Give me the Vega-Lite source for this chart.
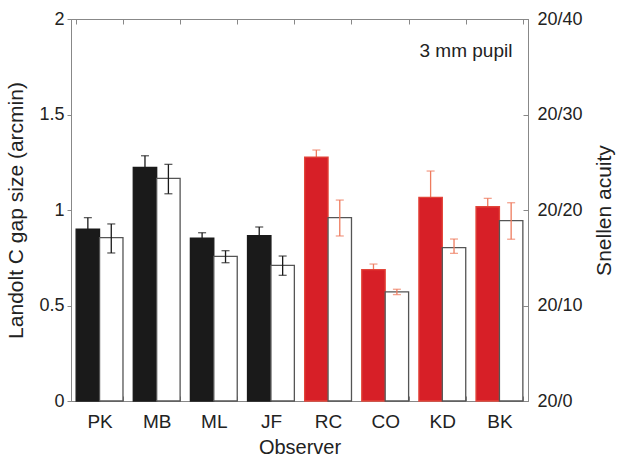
{
  "$schema": "https://vega.github.io/schema/vega-lite/v6.json",
  "width": 457,
  "height": 382,
  "autosize": "none",
  "padding": {"left": 71, "top": 19, "right": 93, "bottom": 64},
  "background": "white",
  "config": {
    "font": "Liberation Sans",
    "view": {"stroke": "#888888", "strokeWidth": 1},
    "axis": {
      "domainColor": "#888888",
      "tickColor": "#888888",
      "labelColor": "#222222",
      "titleColor": "#222222",
      "labelFont": "Liberation Sans",
      "titleFont": "Liberation Sans",
      "titleFontWeight": "normal",
      "grid": false
    }
  },
  "data": {
    "values": [
      {"observer": "PK", "set": "A", "cond": "filled", "value": 0.90, "lo": 0.84, "hi": 0.96},
      {"observer": "PK", "set": "A", "cond": "open", "value": 0.855, "lo": 0.775, "hi": 0.927},
      {"observer": "MB", "set": "A", "cond": "filled", "value": 1.223, "lo": 1.162, "hi": 1.284},
      {"observer": "MB", "set": "A", "cond": "open", "value": 1.166, "lo": 1.085, "hi": 1.239},
      {"observer": "ML", "set": "A", "cond": "filled", "value": 0.852, "lo": 0.823, "hi": 0.881},
      {"observer": "ML", "set": "A", "cond": "open", "value": 0.757, "lo": 0.724, "hi": 0.787},
      {"observer": "JF", "set": "A", "cond": "filled", "value": 0.866, "lo": 0.821, "hi": 0.911},
      {"observer": "JF", "set": "A", "cond": "open", "value": 0.71, "lo": 0.658, "hi": 0.759},
      {"observer": "RC", "set": "B", "cond": "filled", "value": 1.277, "lo": 1.24, "hi": 1.314},
      {"observer": "RC", "set": "B", "cond": "open", "value": 0.96, "lo": 0.864, "hi": 1.052},
      {"observer": "CO", "set": "B", "cond": "filled", "value": 0.688, "lo": 0.659, "hi": 0.717},
      {"observer": "CO", "set": "B", "cond": "open", "value": 0.571, "lo": 0.557, "hi": 0.585},
      {"observer": "KD", "set": "B", "cond": "filled", "value": 1.066, "lo": 0.928, "hi": 1.204},
      {"observer": "KD", "set": "B", "cond": "open", "value": 0.803, "lo": 0.773, "hi": 0.848},
      {"observer": "BK", "set": "B", "cond": "filled", "value": 1.017, "lo": 0.973, "hi": 1.061},
      {"observer": "BK", "set": "B", "cond": "open", "value": 0.944, "lo": 0.847, "hi": 1.038}
    ]
  },
  "layer": [
    {
      "transform": [{"filter": "datum.cond === 'filled'"}],
      "mark": {"type": "rule", "strokeWidth": 1.3},
      "encoding": {
        "x": {
          "field": "observer", "type": "nominal", "sort": null,
          "scale": {"paddingInner": 0.18, "paddingOuter": 0.09},
          "axis": {
            "orient": "bottom", "title": "Observer", "labelAngle": 0,
            "tickBand": "extent", "tickSize": -5, "labelPadding": 16,
            "labelFontSize": 19, "titleFontSize": 20, "titlePadding": 6
          }
        },
        "xOffset": {"field": "cond", "type": "nominal", "scale": {"domain": ["filled", "open"], "paddingInner": 0, "paddingOuter": 0}},
        "y": {
          "field": "lo", "type": "quantitative",
          "scale": {"domain": [0, 2], "nice": false},
          "axis": {
            "orient": "left", "title": "Landolt C gap size (arcmin)",
            "values": [0, 0.5, 1, 1.5, 2], "format": "~g",
            "tickSize": 4, "labelPadding": 3, "labelFontSize": 18,
            "titleFontSize": 21, "titlePadding": 12
          }
        },
        "y2": {"field": "hi"},
        "color": {"field": "set", "type": "nominal", "scale": {"domain": ["A", "B"], "range": ["#1a1a1a", "#ee7b5e"]}, "legend": null}
      }
    },
    {
      "transform": [{"filter": "datum.cond === 'filled'"}],
      "mark": {"type": "tick", "thickness": 1.3, "size": 8},
      "encoding": {
        "x": {"field": "observer", "type": "nominal", "sort": null, "axis": null},
        "xOffset": {"field": "cond", "type": "nominal"},
        "y": {"field": "hi", "type": "quantitative", "axis": null},
        "color": {"field": "set", "type": "nominal", "legend": null}
      }
    },
    {
      "mark": {"type": "bar", "strokeWidth": 1.3},
      "encoding": {
        "x": {
          "field": "observer", "type": "nominal", "sort": null,
          "axis": {"orient": "top", "labels": false, "title": null, "domain": true, "ticks": true, "tickBand": "extent", "tickSize": -5}
        },
        "xOffset": {"field": "cond", "type": "nominal"},
        "y": {
          "field": "value", "type": "quantitative",
          "axis": {
            "orient": "right", "title": "Snellen acuity",
            "domain": true, "ticks": true,
            "values": [0, 0.5, 1, 1.5, 2],
            "labelExpr": "'20/' + format(datum.value * 20, 'd')",
            "tickSize": -5, "labelPadding": 14, "labelFontSize": 18,
            "titleFontSize": 21, "titleAngle": 270, "titleBaseline": "top", "titlePadding": 11
          }
        },
        "fill": {
          "condition": {"test": "datum.cond === 'open'", "value": "white"},
          "field": "set", "type": "nominal",
          "scale": {"domain": ["A", "B"], "range": ["#1a1a1a", "#d71f27"]}, "legend": null
        },
        "stroke": {
          "condition": {"test": "datum.cond === 'open'", "value": "#555555"},
          "field": "set", "type": "nominal",
          "scale": {"domain": ["A", "B"], "range": ["#1a1a1a", "#e2453a"]}, "legend": null
        }
      }
    },
    {
      "transform": [{"filter": "datum.cond === 'open'"}],
      "mark": {"type": "rule", "strokeWidth": 1.3},
      "encoding": {
        "x": {"field": "observer", "type": "nominal", "sort": null, "axis": null},
        "xOffset": {"field": "cond", "type": "nominal"},
        "y": {"field": "lo", "type": "quantitative", "axis": null},
        "y2": {"field": "hi"},
        "color": {"field": "set", "type": "nominal", "legend": null}
      }
    },
    {
      "transform": [{"filter": "datum.cond === 'open'"}, {"fold": ["lo", "hi"], "as": ["end", "v"]}],
      "mark": {"type": "tick", "thickness": 1.3, "size": 8},
      "encoding": {
        "x": {"field": "observer", "type": "nominal", "sort": null, "axis": null},
        "xOffset": {"field": "cond", "type": "nominal"},
        "y": {"field": "v", "type": "quantitative", "axis": null},
        "color": {"field": "set", "type": "nominal", "legend": null}
      }
    },
    {
      "data": {"values": [{"observer": "BK", "label": "3 mm pupil", "y": 1.83}]},
      "mark": {"type": "text", "align": "right", "baseline": "middle", "dx": 13, "fontSize": 19, "color": "#222222", "font": "Liberation Sans"},
      "encoding": {
        "x": {"field": "observer", "type": "nominal", "sort": null, "axis": null},
        "y": {"field": "y", "type": "quantitative", "axis": null},
        "text": {"field": "label"}
      }
    }
  ],
  "resolve": {"axis": {"x": "independent", "y": "independent"}}
}
